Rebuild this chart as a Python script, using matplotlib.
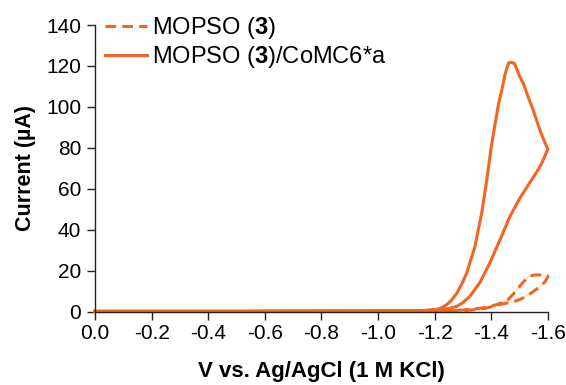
import matplotlib
matplotlib.use("Agg")
import matplotlib.pyplot as plt

plt.rcParams['font.family'] = ['Liberation Sans', 'DejaVu Sans']
plt.rcParams['axes.unicode_minus'] = False
plt.rcParams['mathtext.fontset'] = 'custom'
plt.rcParams['mathtext.rm'] = 'Liberation Sans'
plt.rcParams['mathtext.bf'] = 'Liberation Sans:bold'

ORANGE = "#F26522"

# MOPSO (3)/CoMC6*a -- forward scan (lower branch), then reverse scan (upper branch)
cat_fwd_v = [0.0, -0.4, -0.8, -1.0, -1.1, -1.15, -1.2, -1.23, -1.255, -1.278,
             -1.30, -1.325, -1.36, -1.395, -1.431, -1.466, -1.501, -1.548,
             -1.575, -1.6]
cat_fwd_i = [0.2, 0.2, 0.3, 0.35, 0.45, 0.55, 0.8, 1.1, 1.7, 2.6,
             4.5, 7.6, 14.3, 23.8, 35.2, 46.5, 55.5, 65.5,
             71.5, 79.4]
cat_rev_v = [-1.6, -1.585, -1.572, -1.56, -1.548, -1.53, -1.513, -1.50, -1.49,
             -1.482, -1.47, -1.462, -1.455, -1.448, -1.442, -1.435, -1.425,
             -1.412, -1.40, -1.384, -1.366, -1.342, -1.313, -1.295, -1.278,
             -1.26, -1.242, -1.225, -1.207, -1.18, -1.15, -1.0, -0.5, 0.0]
cat_rev_i = [79.4, 84.0, 88.7, 93.5, 98.5, 105.0, 111.5, 115.0, 118.5,
             121.2, 121.8, 121.5, 119.0, 115.5, 111.5, 107.0, 101.0,
             90.5, 80.5, 64.3, 48.0, 31.7, 18.8, 13.3, 9.0,
             5.7, 3.4, 1.9, 1.1, 0.7, 0.5, 0.3, 0.2, 0.2]

# MOPSO (3) alone
buf_fwd_v = [0.0, -0.5, -1.0, -1.2, -1.3, -1.33, -1.38, -1.44, -1.48, -1.51,
             -1.54, -1.57, -1.59, -1.6]
buf_fwd_i = [0.1, 0.1, 0.2, 0.3, 0.6, 0.8, 1.7, 3.8, 4.9, 6.5,
             9.0, 12.0, 14.6, 17.0]
buf_rev_v = [-1.6, -1.58, -1.55, -1.53, -1.51, -1.48, -1.46, -1.44, -1.42,
             -1.38, -1.3, -1.2, -1.0, -0.5, 0.0]
buf_rev_i = [17.4, 18.0, 17.9, 17.0, 14.0, 9.0, 6.0, 4.5, 3.5,
             2.0, 0.8, 0.3, 0.2, 0.1, 0.1]

x_ticks = [0.0, -0.2, -0.4, -0.6, -0.8, -1.0, -1.2, -1.4, -1.6]
y_ticks = [0, 20, 40, 60, 80, 100, 120, 140]

fig = plt.figure(figsize=(5.66, 3.85), dpi=100)
ax = fig.add_axes([0.1678, 0.1904, 0.8002, 0.7446])

buf_v = buf_fwd_v + buf_rev_v
buf_i = buf_fwd_i + buf_rev_i
cat_v = cat_fwd_v + cat_rev_v
cat_i = cat_fwd_i + cat_rev_i

# thin faint trace under the dashed curve
ax.plot(buf_v, buf_i, color=ORANGE, lw=0.6, alpha=0.35, clip_on=False)
ax.plot(buf_v, buf_i, color=ORANGE, lw=2.2, ls=(0, (3.5, 2.0)),
        clip_on=False, label=r"MOPSO ($\mathbf{3}$)")
ax.plot(cat_v, cat_i, color=ORANGE, lw=2.2, clip_on=False,
        solid_joinstyle="round", label=r"MOPSO ($\mathbf{3}$)/CoMC6*a")

ax.set_xlim(0.0, -1.6)
ax.set_ylim(0, 140)
ax.set_xticks(x_ticks)
ax.set_xticklabels([f"{t:.1f}" for t in x_ticks])
ax.set_yticks(y_ticks)

for s in ["top", "right"]:
    ax.spines[s].set_visible(False)
for s in ["left", "bottom"]:
    ax.spines[s].set_color("#222222")
    ax.spines[s].set_linewidth(1.0)
ax.tick_params(direction="out", length=6, width=1.0, color="#222222",
               labelsize=15)
ax.tick_params(axis="x", pad=3)
ax.tick_params(axis="y", pad=4)

ax.set_xlabel("V vs. Ag/AgCl (1 M KCl)", fontsize=16, fontweight="bold", labelpad=13)
ax.set_ylabel("Current (\u00b5A)", fontsize=15.5, fontweight="bold", labelpad=7)

leg = ax.legend(loc="upper left", bbox_to_anchor=(0.022, 1.035), frameon=False,
                fontsize=17, handlelength=1.78, handletextpad=0.21,
                borderpad=0, labelspacing=0.13, borderaxespad=0)

fig.savefig("out.png", dpi=100)
